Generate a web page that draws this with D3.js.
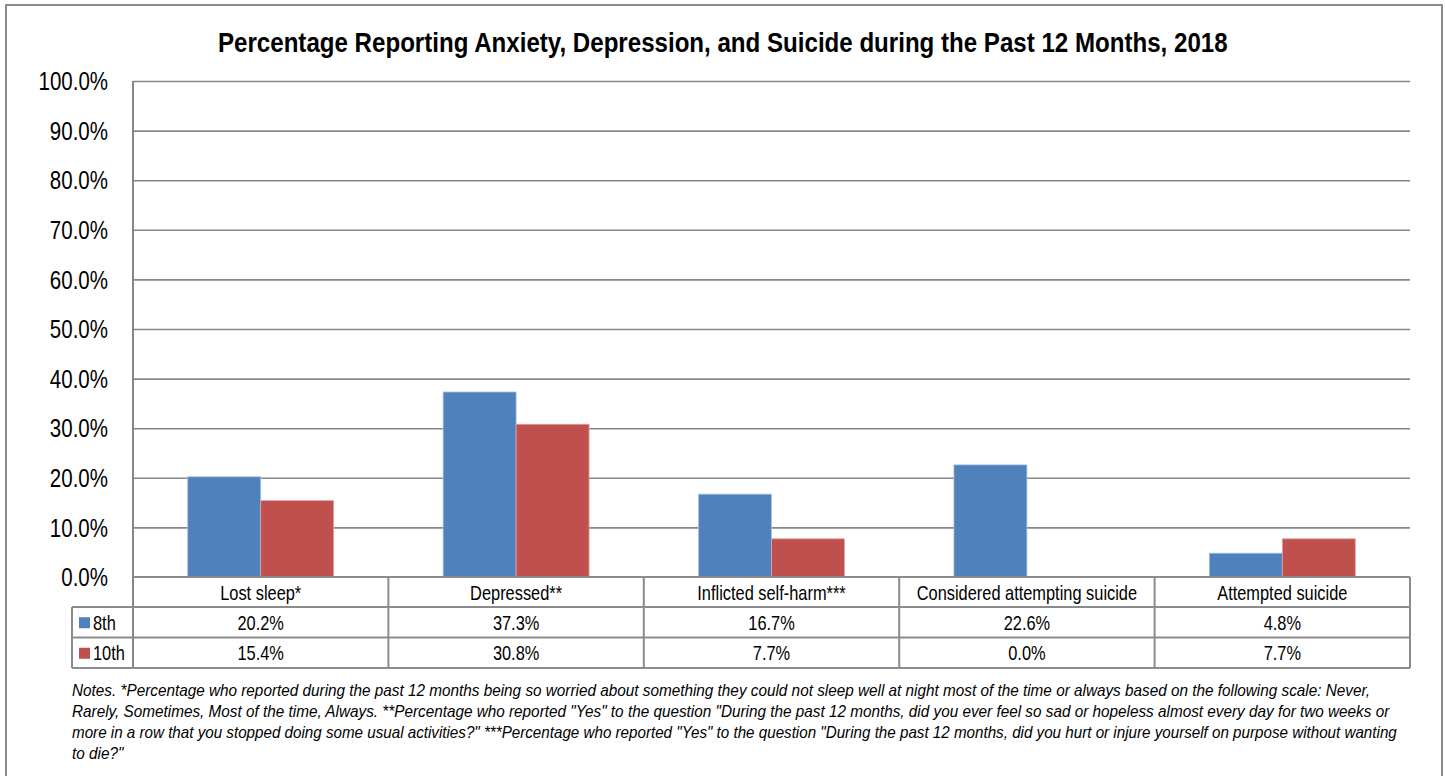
<!DOCTYPE html>
<html>
<head>
<meta charset="utf-8">
<script src="https://cdn.jsdelivr.net/npm/d3@7"></script>
<style>
  html, body { margin: 0; padding: 0; background: #fff; overflow: hidden; }
  svg { display: block; }
</style>
</head>
<body>
<svg id="chart" width="1445" height="776"></svg>
<script>
// ---- data ----
const categories = ["Lost sleep*", "Depressed**", "Inflicted self-harm***", "Considered attempting suicide", "Attempted suicide"];
const seriesNames = ["8th", "10th"];
const grade8 = [20.2, 37.3, 16.7, 22.6, 4.8];
const grade10 = [15.4, 30.8, 7.7, 0.0, 7.7];
const seriesColors = ["#4F81BD", "#C0504D"];
const seriesEdge = ["#A7C0E0", "#E0A3A2"];
const yTicks = [0, 10, 20, 30, 40, 50, 60, 70, 80, 90, 100];
const titleText = "Percentage Reporting Anxiety, Depression, and Suicide during the Past 12 Months, 2018";
const notesLines = [
  "Notes. *Percentage who reported during the past 12 months being so worried about something they could not sleep well at night most of the time or always based on the following scale: Never,",
  "Rarely, Sometimes, Most of the time, Always. **Percentage who reported \"Yes\" to the question \"During the past 12 months, did you ever feel so sad or hopeless almost every day for two weeks or",
  "more in a row that you stopped doing some usual activities?\" ***Percentage who reported \"Yes\" to the question \"During the past 12 months, did you hurt or injure yourself on purpose without wanting",
  "to die?\""
];

// ---- font detection ----
function fontAvailable(name) {
  const c = document.createElement("canvas").getContext("2d");
  const s = "abcdefghijklmnopqrstuvwxyz0123456789%";
  c.font = "40px monospace"; const w1 = c.measureText(s).width;
  c.font = "40px '" + name + "', monospace"; const w2 = c.measureText(s).width;
  return Math.abs(w1 - w2) > 0.5;
}
const hasNarrow = fontAvailable("Liberation Sans Narrow");
const FONT = hasNarrow ? "'Liberation Sans Narrow', 'Arial Narrow', sans-serif" : "'Liberation Sans', Arial, sans-serif";
const SX = hasNarrow ? 1 : 0.82;

const svg = d3.select("#chart");

function txt(parent, x, y, str, o) {
  o = o || {};
  const g = parent.append("g").attr("transform", `translate(${x},${y}) scale(${SX},1)`);
  const t = g.append("text")
    .attr("x", 0).attr("y", 0)
    .attr("dy", o.dy || "0.35em")
    .attr("text-anchor", o.anchor || "middle")
    .attr("font-family", FONT)
    .attr("font-size", o.size || 20)
    .attr("font-weight", o.weight || "normal")
    .attr("font-style", o.style || "normal")
    .attr("fill", "#000")
    .text(str);
  if (o.width) {
    // scale horizontally so the line spans the width measured on the reference
    const w = t.node().getComputedTextLength();
    g.attr("transform", `translate(${x},${y}) scale(${o.width / w},1)`);
  } else if (o.hscale) {
    g.attr("transform", `translate(${x},${y}) scale(${SX * o.hscale},1)`);
  }
  return t;
}

// ---- layout ----
const plotL = 133, plotR = 1410, plotT = 81, plotB = 577;
const rowH = [577, 607, 637.5, 668];
const tableL = 72;
const gridColor = "#878787";

// outer border
svg.append("rect").attr("x", 6).attr("y", 5).attr("width", 1436).attr("height", 800)
  .attr("fill", "none").attr("stroke", "#8a8a8a").attr("stroke-width", 2);

// scales
const y = d3.scaleLinear().domain([0, 100]).range([plotB, plotT]);
const x0 = d3.scaleBand().domain(categories).range([plotL, plotR]).padding(0);
const x1 = d3.scaleBand().domain(seriesNames).range([0, x0.bandwidth()]).paddingInner(0).paddingOuter(0.75);

// title
txt(svg, 218, 42, titleText, { size: 28, weight: "bold", anchor: "start", width: 1010 });

// gridlines
const gridAxis = d3.axisLeft(y).tickValues(yTicks.filter(d => d > 0)).tickSize(-(plotR - plotL)).tickFormat("");
const gg = svg.append("g").attr("transform", `translate(${plotL},0)`).call(gridAxis);
gg.select(".domain").remove();
gg.selectAll(".tick line").attr("stroke", gridColor).attr("stroke-width", 1.6);

// y axis labels
const yAxis = d3.axisLeft(y).tickValues(yTicks).tickSize(0).tickPadding(0).tickFormat(d => d.toFixed(1) + "%");
const ya = svg.append("g").attr("transform", `translate(${plotL},0)`).call(yAxis);
ya.select(".domain").remove();
ya.selectAll(".tick text")
  .attr("x", -25 / SX)
  .attr("dy", "0.35em")
  .attr("transform", `scale(${SX},1)`)
  .attr("font-family", FONT)
  .attr("font-size", 25)
  .attr("fill", "#000");

// left axis line
svg.append("line").attr("x1", plotL).attr("x2", plotL).attr("y1", plotT).attr("y2", rowH[3])
  .attr("stroke", gridColor).attr("stroke-width", 2);

// bars
const seriesData = [grade8, grade10];
const groups = svg.append("g").selectAll("g.cat")
  .data(categories).join("g")
  .attr("transform", d => `translate(${x0(d)},0)`);
groups.selectAll("rect")
  .data((d, i) => seriesNames.map((s, k) => ({ s, k, v: seriesData[k][i] })))
  .join("rect")
  .attr("x", d => x1(d.s))
  .attr("y", d => y(d.v))
  .attr("width", x1.bandwidth())
  .attr("height", d => y(0) - y(d.v))
  .attr("fill", d => seriesColors[d.k])
  .attr("stroke", d => d.v > 0 ? seriesEdge[d.k] : "none")
  .attr("stroke-width", 0.8);

// data table
const tbl = svg.append("g");
const tColor = "#8c8c8c";
tbl.append("line").attr("x1", plotL).attr("x2", plotR).attr("y1", rowH[0]).attr("y2", rowH[0]).attr("stroke", tColor).attr("stroke-width", 2);
[rowH[1], rowH[2], rowH[3]].forEach(yy => {
  tbl.append("line").attr("x1", tableL).attr("x2", plotR).attr("y1", yy).attr("y2", yy).attr("stroke", tColor).attr("stroke-width", 2);
});
tbl.append("line").attr("x1", tableL).attr("x2", tableL).attr("y1", rowH[1]).attr("y2", rowH[3]).attr("stroke", tColor).attr("stroke-width", 2);
categories.forEach(c => {
  const xr = x0(c) + x0.bandwidth();
  tbl.append("line").attr("x1", xr).attr("x2", xr).attr("y1", rowH[0]).attr("y2", rowH[3]).attr("stroke", tColor).attr("stroke-width", 2);
});
categories.forEach(c => {
  txt(tbl, x0(c) + x0.bandwidth() / 2, (rowH[0] + rowH[1]) / 2 + 1, c, { size: 20 });
});
seriesNames.forEach((s, k) => {
  const cy = (rowH[k + 1] + rowH[k + 2]) / 2 + 0.5;
  tbl.append("rect").attr("x", 79).attr("y", cy - 5.5).attr("width", 11).attr("height", 11).attr("fill", seriesColors[k]);
  txt(tbl, 93, cy, s, { size: 20, anchor: "start" });
  categories.forEach((c, i) => {
    txt(tbl, x0(c) + x0.bandwidth() / 2, cy, seriesData[k][i].toFixed(1) + "%", { size: 20 });
  });
});

// notes: each full line spans the width measured on the reference
const notesWidths = [1298, 1317, 1325];
const notesSize = 16.5;
let notesScale = 1;
notesLines.forEach((line, i) => {
  const o = { size: notesSize, anchor: "start", style: "italic" };
  if (i < notesWidths.length) o.width = notesWidths[i]; else o.hscale = notesScale / SX;
  const t = txt(svg, 72, 690.5 + i * 21, line, o);
  if (i === 0) notesScale = notesWidths[0] / t.node().getComputedTextLength();
});
</script>
</body>
</html>
